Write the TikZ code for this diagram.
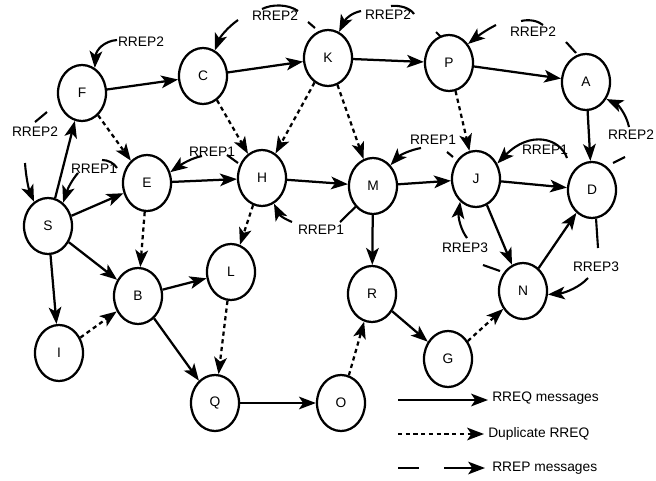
\documentclass[tikz,border=0pt]{standalone}
\usepackage{fontspec}
\setmainfont{Liberation Sans}
\usetikzlibrary{shapes.geometric,arrows.meta}

\begin{document}
\begin{tikzpicture}[x=0.025cm,y=-0.025cm,font=\fontsize{9.8}{11}\selectfont]
\tikzset{nd/.style={draw, ellipse, line width=1.6pt, minimum width=1.2cm, minimum height=1.4cm, inner sep=0pt}}
\tikzset{req/.style={line width=1.6pt, -{Stealth[length=12pt,width=9pt,inset=3pt]}}}
\tikzset{dup/.style={req, dash pattern=on 3pt off 2.5pt}}
\tikzset{rep/.style={line width=1.5pt, -{Stealth[length=12pt,width=9pt,inset=3pt]}}}
\tikzset{piece/.style={line width=1.5pt}}
\tikzset{lbl/.style={inner sep=0pt}}

\useasboundingbox (0,0) rectangle (656,480);

% Nodes, top row
\node[nd] (f) at (82,93) {F};
\node[nd] (c) at (203,76) {C};
\node[nd] (k) at (328,58) {K};
\node[nd] (p) at (449,63) {P};
\node[nd] (a) at (586,82) {A};

% Nodes, middle row
\node[nd] (s) at (48,226) {S};
\node[nd] (e) at (147,183) {E};
\node[nd] (h) at (262,178) {H};
\node[nd] (m) at (373,186) {M};
\node[nd] (j) at (476,179) {J};
\node[nd] (d) at (592,190) {D};

% Nodes, lower rows
\node[nd] (b) at (138,296) {B};
\node[nd] (l) at (231,272) {L};
\node[nd] (i) at (59,353) {I};
\node[nd] (q) at (215,403) {Q};
\node[nd] (o) at (341,403) {O};
\node[nd] (r) at (372,294) {R};
\node[nd] (g) at (448,359) {G};
\node[nd] (n) at (523,291) {N};

% RREQ messages
\draw[req] (f) -- (c);
\draw[req] (c) -- (k);
\draw[req] (k) -- (p);
\draw[req] (p) -- (a);
\draw[req] (a) -- (d);
\draw[req] (s) -- (f);
\draw[req] (s) -- (e);
\draw[req] (e) -- (h);
\draw[req] (h) -- (m);
\draw[req] (m) -- (j);
\draw[req] (j) -- (d);
\draw[req] (m) -- (r);
\draw[req] (s) -- (b);
\draw[req] (s) -- (i);
\draw[req] (b) -- (l);
\draw[req] (b) -- (q);
\draw[req] (q) -- (o);
\draw[req] (r) -- (g);
\draw[req] (j) -- (n);
\draw[req] (n) -- (d);

% Duplicate RREQ
\draw[dup] (f) -- (e);
\draw[dup] (c) -- (h);
\draw[dup] (k) -- (h);
\draw[dup] (k) -- (m);
\draw[dup] (p) -- (j);
\draw[dup] (e) -- (b);
\draw[dup] (h) -- (l);
\draw[dup] (l) -- (q);
\draw[dup] (i) -- (b);
\draw[dup] (o) -- (r);
\draw[dup] (g) -- (n);

% RREP labels
\node[lbl] (tf) at (141,42) {RREP2};
\node[lbl] (tc) at (275,16) {RREP2};
\node[lbl] (tk) at (388,15) {RREP2};
\node[lbl] (tp) at (533,32) {RREP2};
\node[lbl] (ta) at (631,135) {RREP2};
\node[lbl] (ts2) at (35,132) {RREP2};
\node[lbl] (ts1) at (94,169) {RREP1};
\node[lbl] (te) at (212,152) {RREP1};
\node[lbl] (th) at (321,230) {RREP1};
\node[lbl] (tm) at (433,140) {RREP1};
\node[lbl] (tj1) at (545,150) {RREP1};
\node[lbl] (tj3) at (465,248) {RREP3};
\node[lbl] (tn) at (596,267) {RREP3};

% RREP messages (dashed, drawn piece by piece)
\coordinate (uf) at (117,40);
\draw[rep] (uf) .. controls (104,41) and (96,50) .. (f.63);

\coordinate (uc) at (238,20);
\coordinate (uc1) at (262,9);
\coordinate (uc2) at (298,11);
\coordinate (uc3) at (308,22);
\coordinate (uc4) at (315,28);
\draw[rep] (uc) .. controls (228,27) and (220,37) .. (c.65);
\draw[piece] (uc1) .. controls (272,4) and (288,4) .. (uc2);
\draw[piece] (uc3) -- (uc4);

\coordinate (uk) at (361,11);
\coordinate (uk1) at (391,6);
\coordinate (uk2) at (414,14);
\coordinate (uk3) at (436,32);
\coordinate (uk4) at (441,37);
\draw[rep] (uk) .. controls (352,13) and (346,18) .. (k.67);
\draw[piece] (uk1) .. controls (400,5) and (410,8) .. (uk2);
\draw[piece] (uk3) -- (uk4);

\coordinate (up) at (496,25);
\coordinate (up1) at (521,21);
\coordinate (up2) at (543,25);
\coordinate (up3) at (566,42);
\coordinate (up4) at (576,53);
\draw[rep] (up) .. controls (486,30) and (478,36) .. (p.45);
\draw[piece] (up1) .. controls (530,19) and (538,21) .. (up2);
\draw[piece] (up3) -- (up4);

\coordinate (ua) at (629,127);
\coordinate (ua1) at (613,163);
\coordinate (ua2) at (625,157);
\draw[rep] (ua) .. controls (626,113) and (617,104) .. (a.-40);
\draw[piece] (ua1) -- (ua2);

\coordinate (us2) at (25,163);
\coordinate (us21) at (47,112);
\coordinate (us22) at (35,122);
\draw[rep] (us2) .. controls (26,178) and (29,190) .. (s.120);
\draw[piece] (us21) -- (us22);

\coordinate (us1) at (78,173);
\coordinate (us11) at (102,160);
\coordinate (us12) at (117,168);
\draw[rep] (us1) .. controls (72,180) and (68,188) .. (s.57);
\draw[piece] (us11) .. controls (108,160) and (114,163) .. (us12);

\coordinate (ue) at (202,156);
\coordinate (ue1) at (227,155);
\coordinate (ue2) at (238,163);
\draw[rep] (ue) .. controls (192,158) and (182,164) .. (e.25);
\draw[piece] (ue1) -- (ue2);

\coordinate (uh) at (292,222);
\coordinate (uh1) at (340,222);
\draw[rep] (uh) .. controls (285,219) and (280,216) .. (h.-65);
\draw[piece] (m.-130) -- (uh1);

\coordinate (um) at (421,148);
\coordinate (um1) at (447,152);
\coordinate (um2) at (453,157);
\draw[rep] (um) .. controls (410,150) and (400,155) .. (m.50);
\draw[piece] (um1) -- (um2);

\coordinate (uj1) at (567,158);
\draw[rep] (uj1) .. controls (560,138) and (530,130) .. (j.36);

\coordinate (uj3) at (467,238);
\coordinate (uj31) at (483,265);
\coordinate (uj32) at (500,271);
\draw[rep] (uj3) .. controls (461,230) and (458,218) .. (j.-125);
\draw[piece] (uj31) -- (uj32);

\coordinate (un) at (588,278);
\coordinate (un1) at (598,248);
\draw[rep] (un) .. controls (580,287) and (565,293) .. (n.-8);
\draw[piece] (d.-82) -- (un1);

% Legend
\coordinate (la1) at (398,400);
\coordinate (la2) at (488,400);
\coordinate (lb1) at (398,434);
\coordinate (lb2) at (484,434);
\coordinate (lc1) at (398,468);
\coordinate (lc2) at (485,468);
\draw[req] (la1) -- (la2);
\draw[dup] (lb1) -- (lb2);
\draw[rep, dash pattern=on 15pt off 18pt on 40pt] (lc1) -- (lc2);
\node[lbl, anchor=base west] (lta) at (492,401) {RREQ messages};
\node[lbl, anchor=base west] (ltb) at (488,437) {Duplicate RREQ};
\node[lbl, anchor=base west] (ltc) at (492,471) {RREP messages};

\end{tikzpicture}
\end{document}
